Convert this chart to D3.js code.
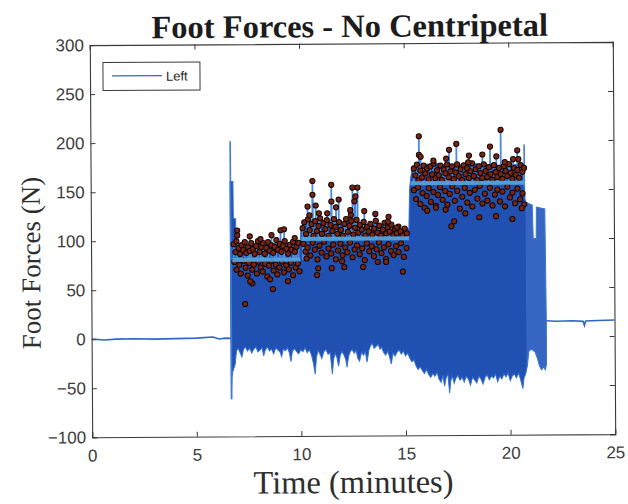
<!DOCTYPE html>
<html>
<head>
<meta charset="utf-8">
<script src="https://cdn.jsdelivr.net/npm/d3@7"></script>
<style>
  body { margin: 0; background: #fff; }
  svg { display: block; }
</style>
</head>
<body>
<svg id="chart" width="628" height="504"></svg>
<script>
// ---- axis ticks ----
const xTicks = [0, 5, 10, 15, 20, 25];
const yTicks = [-100, -50, 0, 50, 100, 150, 200, 250, 300];

// ---- quiet signal before and after the trial [minutes, N] ----
const preTrace = [[0,0.3],[0.6,-0.8],[1.2,0],[2,0.2],[3,-0.3],[4,0.1],[5,0.5],[5.8,1.5],[6.1,-0.5],[6.4,0.3],[6.66,0]];
const postTrace = [[21.74,16],[22.2,15.5],[23,15.8],[23.5,15.2],[23.56,11],[23.62,15.5],[24.2,16],[25,16.4]];

// ---- envelope of the dense stepping signal [minutes, N] ----
const upperEdge = [[6.66,160],[6.8,160],[6.81,122],[6.92,122],[6.93,98],[7.1,96],[7.3,97],[7.5,94],[7.7,97],[7.9,95],[8.1,98],[8.3,93],[8.5,97],[8.7,95],[8.9,99],[9.1,96],[9.3,98],[9.5,94],[9.7,97],[9.9,96],[10.0,98],[10.04,112],[10.2,120],[10.4,118],[10.6,121],[10.8,119],[11.0,122],[11.2,118],[11.4,120],[11.6,121],[11.8,117],[12.0,115],[12.2,121],[12.4,120],[12.6,122],[12.8,118],[13.0,117],[13.2,115],[13.4,113],[13.6,118],[13.8,114],[14.0,115],[14.2,117],[14.4,112],[14.6,112],[14.8,110],[15.0,112],[15.2,110],[15.24,150],[15.3,163],[15.4,175],[15.8,176],[16.4,177],[17.0,176],[17.6,176],[18.2,177],[18.8,176],[19.4,175],[20.0,176],[20.7,175],[20.76,140],[20.8,137],[21.1,134],[21.14,100],[21.28,100],[21.3,132],[21.7,130],[21.74,16]];
const lowerEdge = [[6.66,-62],[6.7,-40],[6.74,-34],[6.8,-30],[6.86,-26],[6.92,-13],[7.0,-10],[7.08,-14],[7.18,-19],[7.26,-11],[7.35,-9],[7.45,-13],[7.55,-10],[7.65,-15],[7.75,-11],[7.85,-9],[7.95,-14],[8.05,-12],[8.15,-10],[8.22,-18],[8.3,-12],[8.4,-9],[8.5,-13],[8.6,-11],[8.7,-16],[8.8,-10],[8.9,-12],[9.0,-14],[9.08,-19],[9.16,-11],[9.26,-13],[9.36,-10],[9.45,-15],[9.52,-24],[9.6,-13],[9.7,-11],[9.8,-14],[9.9,-16],[10.0,-12],[10.1,-14],[10.2,-10],[10.3,-15],[10.4,-12],[10.5,-17],[10.6,-26],[10.68,-37],[10.74,-20],[10.82,-13],[10.9,-16],[11.0,-21],[11.1,-14],[11.2,-12],[11.3,-17],[11.4,-15],[11.5,-37],[11.56,-22],[11.64,-16],[11.72,-20],[11.8,-29],[11.88,-18],[11.96,-14],[12.05,-17],[12.14,-22],[12.2,-30],[12.28,-19],[12.36,-14],[12.45,-12],[12.55,-16],[12.64,-13],[12.72,-21],[12.8,-24],[12.9,-15],[13.0,-18],[13.08,-14],[13.16,-25],[13.25,-13],[13.34,-8],[13.42,-6],[13.5,-11],[13.6,-9],[13.7,-7],[13.78,-12],[13.86,-10],[13.95,-15],[14.05,-18],[14.15,-14],[14.24,-20],[14.32,-27],[14.4,-16],[14.5,-19],[14.6,-15],[14.7,-13],[14.8,-17],[14.9,-14],[15.0,-19],[15.1,-16],[15.2,-21],[15.3,-25],[15.4,-23],[15.5,-29],[15.6,-33],[15.7,-30],[15.8,-34],[15.9,-37],[16.0,-33],[16.1,-38],[16.2,-41],[16.3,-37],[16.4,-40],[16.5,-36],[16.6,-43],[16.7,-46],[16.78,-39],[16.86,-50],[16.94,-41],[17.02,-38],[17.1,-57],[17.16,-44],[17.24,-40],[17.32,-47],[17.4,-42],[17.5,-39],[17.6,-44],[17.7,-41],[17.8,-46],[17.9,-40],[18.0,-43],[18.1,-49],[18.2,-41],[18.3,-44],[18.4,-47],[18.5,-40],[18.6,-43],[18.7,-48],[18.8,-41],[18.9,-39],[19.0,-44],[19.1,-40],[19.2,-42],[19.3,-38],[19.4,-46],[19.5,-40],[19.6,-43],[19.7,-38],[19.8,-41],[19.9,-37],[20.0,-45],[20.1,-40],[20.2,-38],[20.3,-42],[20.4,-37],[20.5,-44],[20.6,-53],[20.66,-42],[20.74,-38],[20.82,-30],[20.9,-15],[21.0,-13],[21.1,-14],[21.2,-16],[21.3,-22],[21.4,-30],[21.5,-34],[21.6,-31],[21.68,-34],[21.74,-28]];

// thin isolated swings that stick out of the envelope [minutes, top N, bottom N]
const spikeT = [6.68, 20.73];
const spikeTop = [201, 196];
const spikeBottom = [-62, 150];

// ---- detected step peaks [minutes, N] ----
const peaksSeg1 = [[6.82,96],[6.9,88],[6.95,99],[7.05,92],[7.12,86],[7.2,95],[7.28,90],[7.35,98],[7.42,87],[7.5,93],[7.58,89],[7.66,97],[7.74,91],[7.82,86],[7.9,94],[7.98,99],[8.06,88],[8.14,93],[8.22,97],[8.3,86],[8.38,92],[8.46,98],[8.55,89],[8.62,95],[8.7,87],[8.78,93],[8.86,100],[8.94,90],[9.02,96],[9.1,88],[9.18,94],[9.26,99],[9.34,91],[9.42,86],[9.5,95],[9.58,90],[9.66,98],[9.74,88],[9.82,93],[9.92,97],
  [6.99,110],[6.99,105],[7.59,104],[8.63,105],[9.06,110],[9.23,111],[9.74,102],[8.1,101],
  [6.85,78],[6.95,70],[7.08,75],[7.15,66],[7.3,79],[7.38,72],[7.48,64],[7.55,77],[7.7,70],[7.78,75],[7.92,66],[8.0,78],[8.1,72],[8.2,68],[8.32,76],[8.42,63],[8.5,74],[8.6,79],[8.72,69],[8.82,75],[8.9,65],[9.0,72],[9.12,78],[9.22,67],[9.32,74],[9.45,70],[9.55,77],[9.65,64],[9.78,72],[9.88,76],[9.96,68],
  [7.7,56],[8.68,50],[7.35,35],[9.4,58],[8.55,60],[7.6,58]];
const peaksSeg2 = [[10.12,112],[10.2,118],[10.28,106],[10.38,121],[10.46,110],[10.55,116],[10.64,104],[10.72,119],[10.8,109],[10.88,114],[10.96,122],[11.04,106],[11.12,117],[11.2,111],[11.28,120],[11.36,104],[11.45,115],[11.54,109],[11.62,121],[11.7,113],[11.78,106],[11.86,118],[11.95,110],[12.04,104],[12.12,116],[12.2,121],[12.28,108],[12.36,114],[12.45,119],[12.54,105],[12.62,112],[12.7,120],[12.78,107],[12.86,115],[12.95,110],[13.04,118],[13.12,104],[13.2,113],[13.28,108],[13.36,116],[13.45,105],[13.54,111],[13.62,119],[13.7,107],[13.78,114],[13.86,104],[13.95,110],[14.04,117],[14.12,106],[14.2,112],[14.28,108],[14.36,115],[14.45,104],[14.54,110],[14.62,106],[14.7,113],[14.8,108],[14.9,104],[15.0,111],[15.1,106],
  [10.15,96],[10.25,88],[10.35,92],[10.48,84],[10.6,97],[10.7,90],[10.82,80],[10.92,94],[11.02,87],[11.14,98],[11.25,83],[11.35,91],[11.48,86],[11.58,95],[11.7,80],[11.8,89],[11.92,96],[12.02,84],[12.15,92],[12.25,87],[12.38,97],[12.5,82],[12.6,90],[12.72,94],[12.84,85],[12.96,91],[13.08,79],[13.18,96],[13.3,88],[13.42,93],[13.52,83],[13.65,90],[13.76,97],[13.88,86],[14.0,92],[14.1,80],[14.22,95],[14.34,88],[14.46,84],[14.58,93],[14.7,87],[14.82,96],[14.95,82],[15.08,91],
  [10.3,81],[10.85,71],[10.8,64],[11.5,71],[12.1,72],[13.0,72],[14.9,67],[12.0,78],[13.7,77],[14.1,77],
  [10.6,160],[10.6,146],[11.5,156],[11.5,139],[11.85,141],[11.72,133],[10.36,134],[10.75,135],[12.51,153],[12.75,153],[12.6,139],[12.65,144],[13.07,129],[13.6,126],[14.23,123],[14.2,118],[14.62,112],[11.3,127],[10.9,127],[10.45,125],[12.43,125],[12.4,130]];
const peaksSeg3 = [[15.45,172],[15.52,165],[15.6,176],[15.68,160],[15.76,170],[15.84,163],[15.92,175],[16.0,167],[16.08,172],[16.16,161],[16.24,174],[16.32,166],[16.4,177],[16.48,162],[16.56,170],[16.64,165],[16.72,175],[16.8,160],[16.88,171],[16.96,167],[17.04,176],[17.12,163],[17.2,169],[17.28,174],[17.36,161],[17.44,168],[17.52,176],[17.6,164],[17.68,171],[17.76,160],[17.84,175],[17.92,166],[18.0,172],[18.08,162],[18.16,169],[18.24,177],[18.32,164],[18.4,171],[18.48,160],[18.56,174],[18.64,167],[18.72,162],[18.8,176],[18.88,169],[18.96,163],[19.04,173],[19.12,166],[19.2,160],[19.28,175],[19.36,168],[19.44,163],[19.52,172],[19.6,166],[19.68,161],[19.76,174],[19.84,169],[19.92,164],[20.0,176],[20.08,167],[20.16,161],[20.24,172],[20.32,165],[20.4,170],[20.48,162],[20.56,175],[20.64,168],[20.72,172],
  [15.45,150],[15.55,141],[15.65,153],[15.75,136],[15.86,147],[15.96,132],[16.06,144],[16.16,152],[16.26,138],[16.38,148],[16.5,134],[16.6,145],[16.7,153],[16.82,140],[16.94,149],[17.05,135],[17.16,146],[17.28,154],[17.4,139],[17.52,149],[17.64,131],[17.76,143],[17.88,152],[18.0,137],[18.12,147],[18.24,133],[18.36,150],[18.48,141],[18.6,154],[18.72,136],[18.84,146],[18.96,139],[19.08,152],[19.2,134],[19.32,145],[19.44,150],[19.56,138],[19.68,148],[19.8,133],[19.92,153],[20.04,142],[20.16,147],[20.28,136],[20.4,151],[20.52,140],[20.64,146],[20.72,135],
  [16.08,129],[16.96,130],[17.37,118],[17.23,113],[18.57,122],[19.37,123],[20.15,120],[16.5,132],[17.9,126],[20.6,131],
  [15.7,205],[15.7,186],[15.78,184],[16.39,180],[17.14,191],[17.49,197],[17.0,182],[18.09,185],[18.05,178],[18.73,186],[19.1,194],[19.4,184],[19.61,211],[19.8,178],[20.2,181],[20.4,190],[20.45,181]];

// ---- mean force level of each speed stage ----
const levelStart = [6.75, 10.05, 15.3];
const levelEnd = [10.0, 15.2, 20.75];
const levelValue = [80, 101, 157];

// ---- layout ----
const plotLeft = 91, plotRight = 614, plotTop = 43.5, plotBottom = 435.7;
const x = d3.scaleLinear().domain([0, 25]).range([plotLeft, plotRight]);
const y = d3.scaleLinear().domain([-100, 300]).range([plotBottom, plotTop]);

const svg = d3.select('#chart');
const root = svg.append('g').attr('transform', 'rotate(-0.35 353 240)');
const line = d3.line().x(d => x(d[0])).y(d => y(d[1]));
const body = upperEdge.concat(lowerEdge.slice().reverse());

const defs = root.append('defs');
defs.append('clipPath').attr('id', 'plotClip')
  .append('rect').attr('x', plotLeft).attr('y', plotTop)
  .attr('width', plotRight - plotLeft).attr('height', plotBottom - plotTop);
defs.append('clipPath').attr('id', 'bodyClip')
  .append('path').attr('d', line(body) + 'Z');

const plot = root.append('g').attr('clip-path', 'url(#plotClip)');

// quiet segments
plot.append('path').datum(preTrace).attr('d', line)
  .attr('fill', 'none').attr('stroke', '#2f66c9').attr('stroke-width', 1.6);
plot.append('path').datum(postTrace).attr('d', line)
  .attr('fill', 'none').attr('stroke', '#2f66c9').attr('stroke-width', 1.6);

// dense stepping signal, drawn as its envelope
plot.append('path').datum(body).attr('d', d => line(d) + 'Z')
  .attr('fill', '#2050b2').attr('stroke', '#3470cf').attr('stroke-width', 1);

// the sparser tail after the last stage shows lighter
plot.append('g').attr('clip-path', 'url(#bodyClip)')
  .append('rect')
  .attr('x', x(20.78)).attr('width', x(21.8) - x(20.78))
  .attr('y', y(150)).attr('height', y(-60) - y(150))
  .attr('fill', '#6a9be6').attr('opacity', 0.3);

// isolated swings
plot.selectAll('line.spike').data(spikeT).join('line').attr('class', 'spike')
  .attr('x1', d => x(d)).attr('x2', d => x(d))
  .attr('y1', (d, i) => y(spikeTop[i])).attr('y2', (d, i) => y(spikeBottom[i]))
  .attr('stroke', '#3d7bd6').attr('stroke-width', 1.6);

// peaks: the signal rises to every marker above its stage mean
const allPeaks = peaksSeg1.concat(peaksSeg2, peaksSeg3);
function stageOf(t) {
  for (let i = 0; i < levelStart.length; i++) {
    if (t >= levelStart[i] - 0.2 && t <= levelEnd[i] + 0.2) return i;
  }
  return 0;
}
plot.selectAll('line.stem').data(allPeaks.filter(p => p[1] > levelValue[stageOf(p[0])] + 12))
  .join('line').attr('class', 'stem')
  .attr('x1', d => x(d[0])).attr('x2', d => x(d[0]))
  .attr('y1', d => y(d[1])).attr('y2', d => y(levelValue[stageOf(d[0])]))
  .attr('stroke', '#4a8ade').attr('stroke-width', 1.8);

plot.selectAll('circle.peak').data(allPeaks).join('circle').attr('class', 'peak')
  .attr('cx', d => x(d[0])).attr('cy', d => y(d[1])).attr('r', 2.6)
  .attr('fill', '#782516').attr('stroke', '#140806').attr('stroke-width', 1);

// stage mean lines
plot.selectAll('line.level').data(levelValue).join('line').attr('class', 'level')
  .attr('x1', (d, i) => x(levelStart[i])).attr('x2', (d, i) => x(levelEnd[i]))
  .attr('y1', d => y(d)).attr('y2', d => y(d))
  .attr('stroke', '#55a2d8').attr('stroke-width', 4).attr('opacity', 0.95);

// ---- axes ----
const axisColor = '#3a3a3a';
const tickFont = '"Liberation Sans", Arial, sans-serif';

const gx = root.append('g').attr('transform', `translate(0,${plotBottom})`)
  .call(d3.axisBottom(x).tickValues(xTicks).tickSize(-5).tickPadding(12).tickFormat(d3.format('d')));
const gy = root.append('g').attr('transform', `translate(${plotLeft},0)`)
  .call(d3.axisLeft(y).tickValues(yTicks).tickSize(-5).tickPadding(6).tickFormat(d3.format('d')));
const gxt = root.append('g').attr('transform', `translate(0,${plotTop})`)
  .call(d3.axisTop(x).tickValues(xTicks).tickSize(-5).tickFormat(''));
const gyr = root.append('g').attr('transform', `translate(${plotRight},0)`)
  .call(d3.axisRight(y).tickValues(yTicks).tickSize(-5).tickFormat(''));

[gx, gy, gxt, gyr].forEach(g => {
  g.select('.domain').attr('stroke', axisColor).attr('stroke-width', 1.1);
  g.selectAll('.tick line').attr('stroke', axisColor).attr('stroke-width', 1);
  g.selectAll('.tick text').attr('fill', '#3c3c3c')
    .style('font-family', tickFont).style('font-size', '17px');
});

// ---- legend ----
const legend = root.append('g');
legend.append('rect').attr('x', 104).attr('y', 61).attr('width', 97).attr('height', 28)
  .attr('fill', '#fff').attr('stroke', '#3a3a3a').attr('stroke-width', 1);
legend.append('line').attr('x1', 113).attr('x2', 163).attr('y1', 74.5).attr('y2', 74.5)
  .attr('stroke', '#3b5fd0').attr('stroke-width', 1.2);
legend.append('text').attr('x', 167).attr('y', 79.5).text('Left')
  .attr('fill', '#262626').style('font-family', tickFont).style('font-size', '13px');

// ---- titles ----
const serif = '"Liberation Serif", "Times New Roman", serif';
root.append('text').attr('x', 351).attr('y', 37).attr('text-anchor', 'middle')
  .text('Foot Forces - No Centripetal')
  .attr('fill', '#1c1c1c').style('font-family', serif).style('font-size', '32.5px').style('font-weight', 'bold');
root.append('text').attr('x', 352).attr('y', 493).attr('text-anchor', 'middle')
  .text('Time (minutes)')
  .attr('fill', '#2e2e2e').style('font-family', serif).style('font-size', '32.5px');
root.append('text').attr('transform', 'translate(40,261) rotate(-90)')
  .attr('text-anchor', 'middle').text('Foot Forces (N)')
  .attr('fill', '#2e2e2e').style('font-family', serif).style('font-size', '27px');
</script>
</body>
</html>
